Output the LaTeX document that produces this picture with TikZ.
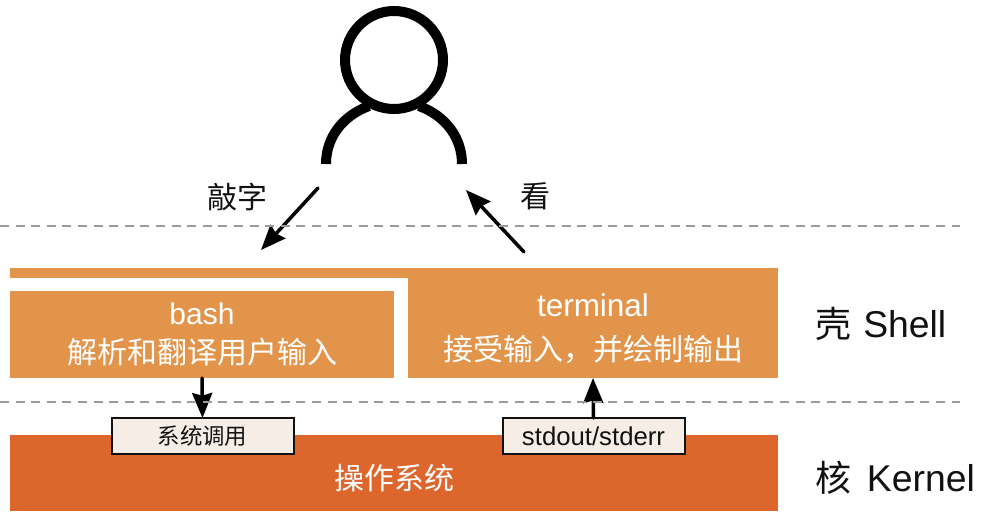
\documentclass[tikz,border=0pt]{standalone}
\usepackage{fontspec}
\setmainfont{Liberation Sans}
\newfontfamily\cjk{Noto Sans CJK SC}
\usetikzlibrary{arrows.meta}
\newlength{\du}
\setlength{\du}{0.75pt}
\definecolor{shellcolor}{HTML}{E1944A}
\definecolor{kernelcolor}{HTML}{DD662D}
\definecolor{tagcolor}{HTML}{F6EEE6}
\definecolor{dashcolor}{HTML}{9A9A9A}
\definecolor{inkcolor}{HTML}{111111}
\tikzset{
  layerbox/.style={anchor=north west,inner sep=0pt,outer sep=0pt,align=center,text=white,
    font=\fontsize{22.5pt}{28pt}\selectfont},
  tagbox/.style={draw=inkcolor,line width=2\du,fill=tagcolor,inner sep=0pt,outer sep=0pt,
    minimum width=182\du,minimum height=36\du,text=inkcolor},
  sidetext/.style={anchor=west,inner sep=0pt,text=inkcolor,font=\fontsize{28pt}{32pt}\selectfont},
  saytext/.style={inner sep=0pt,text=inkcolor,font=\fontsize{22.5pt}{28pt}\selectfont},
  bodyline/.style={draw=black,line width=10\du,line cap=butt},
  flowline/.style={draw=black,line width=3.5\du,line cap=round,
    -{Stealth[length=18.75pt,width=15pt,inset=2pt]}},
  cutline/.style={draw=dashcolor,line width=1.6\du,dash pattern=on 9\du off 6.6\du},
}

\begin{document}
\begin{tikzpicture}
\pgftransformxscale{1.000000}
\pgftransformyscale{-1.000000}
\useasboundingbox (0\du,0\du) rectangle (981\du,511\du);
% shell layer
\node[layerbox,fill=shellcolor,minimum width=398\du,minimum height=10\du] (topbar) at (10\du,268\du) {};
\node[layerbox,fill=shellcolor,minimum width=370\du,minimum height=110\du] (terminal) at (408\du,268\du) {\rule{0pt}{25.5pt}{\fontsize{23.6pt}{28pt}\selectfont terminal}\\[4.5pt]{\cjk 接受输入，并绘制输出}};
\node[layerbox,fill=shellcolor,minimum width=384\du,minimum height=87\du] (bash) at (10\du,291\du) {bash\\[1.5pt]{\cjk 解析和翻译用户输入}};
% kernel layer
\node[layerbox,fill=kernelcolor,minimum width=768\du,minimum height=76\du] (os) at (10\du,435\du) {\rule{0pt}{27.3pt}{\cjk 操作系统}};
\node[tagbox,font=\cjk\fontsize{16.8pt}{20pt}\selectfont] (syscall) at (202.5\du,436\du) {系统调用};
\node[tagbox,font=\fontsize{19.3pt}{22pt}\selectfont] (stdout) at (593.5\du,436\du) {stdout/stderr};
% person
\node[circle,draw=black,line width=10\du,minimum size=98\du,inner sep=0pt] (head) at (394\du,60\du) {};
\draw[bodyline] (326\du,164\du) .. controls (326\du,138\du) and (342\du,116\du) .. (369\du,106\du);
\draw[bodyline] (462\du,164\du) .. controls (462\du,138\du) and (446\du,116\du) .. (419\du,106\du);
% type and look
\coordinate (typefrom) at (318\du,188\du);
\coordinate (typeto) at (261\du,250\du);
\coordinate (lookfrom) at (524\du,252\du);
\coordinate (lookto) at (466\du,190\du);
\node[saytext,font=\cjk\fontsize{22.5pt}{28pt}\selectfont] (typetext) at (237\du,197\du) {敲字};
\node[saytext,font=\cjk\fontsize{22.5pt}{28pt}\selectfont] (looktext) at (535\du,196\du) {看};
\draw[flowline] (typefrom) -- (typeto);
\draw[flowline] (lookfrom) -- (lookto);
\draw[flowline] (bash.south) -- (syscall.north);
\draw[flowline] (stdout.north) -- (terminal.south);
% dashed cuts
\coordinate (cutaleft) at (0\du,226\du);
\coordinate (cutaright) at (960\du,226\du);
\coordinate (cutbleft) at (0\du,402\du);
\coordinate (cutbright) at (960\du,402\du);
\draw[cutline] (cutaleft) -- (cutaright);
\draw[cutline] (cutbleft) -- (cutbright);
% side labels
\node[sidetext] (shelltext) at (815\du,324\du) {{\cjk\fontsize{27pt}{32pt}\selectfont 壳} \hspace{1.2pt}Shell};
\node[sidetext] (kerneltext) at (815\du,478\du) {{\cjk\fontsize{27pt}{32pt}\selectfont 核} \hspace{4pt}Kernel};
\end{tikzpicture}
\end{document}
